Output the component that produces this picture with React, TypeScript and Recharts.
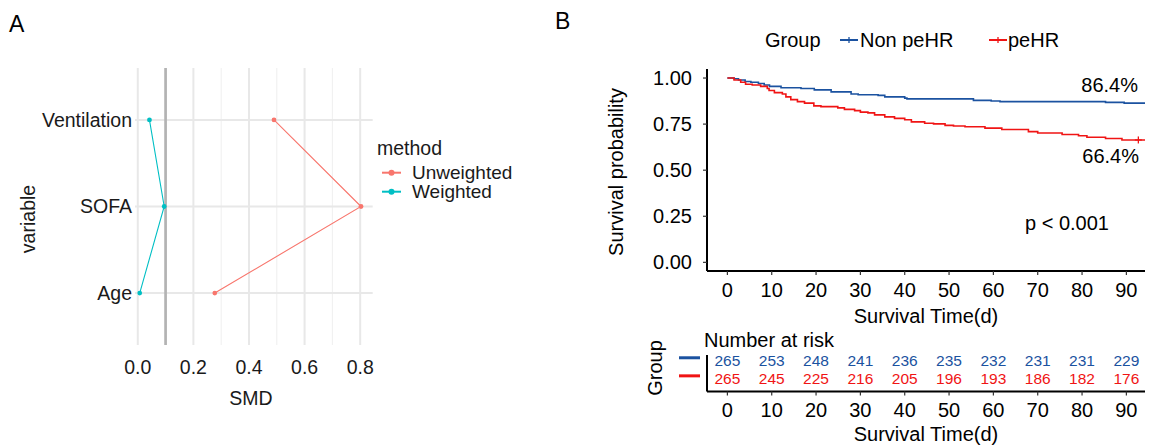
import React from 'react';
import { ComposedChart, Line, Scatter, XAxis, YAxis, ReferenceLine } from 'recharts';

// panel A: standardized mean differences
const variables = ['Age', 'SOFA', 'Ventilation'];
const smdUnweighted = [0.277, 0.803, 0.49];
const smdWeighted = [0.007, 0.095, 0.042];
const smdTicks = [0, 0.2, 0.4, 0.6, 0.8];
const smdMinorTicks = [0.1, 0.3, 0.5, 0.7];
const smdThreshold = 0.1;

// panel B: Kaplan-Meier steps
const timeTicks = [0, 10, 20, 30, 40, 50, 60, 70, 80, 90];
const probTicks = [0, 0.25, 0.5, 0.75, 1];
const nonPehrTimes = [0, 1.5, 2.5, 4, 5.3, 7, 8.3, 9.5, 12.1, 16.6, 19.6, 23.4, 27.9, 29.5, 34, 35.5, 40, 40.5, 55.5, 59.5, 61.5, 85.3, 89.5, 94.2];
const nonPehrSurv = [1, 0.996, 0.989, 0.981, 0.977, 0.97, 0.962, 0.955, 0.947, 0.943, 0.936, 0.925, 0.913, 0.909, 0.906, 0.898, 0.891, 0.887, 0.879, 0.875, 0.872, 0.868, 0.864, 0.864];
const pehrTimes = [0, 1.5, 3, 4.1, 5.6, 7.5, 9, 9.4, 10.6, 12.4, 13.2, 14.3, 15.8, 17.4, 19.5, 21.1, 24.9, 26.4, 28.7, 30, 31.7, 33.2, 35.5, 37.7, 40, 41.5, 44.5, 46.5, 49.1, 51, 53.6, 58.1, 61.9, 67.9, 70, 75.5, 79.2, 81.1, 85.3, 89, 94.2];
const pehrSurv = [1, 0.989, 0.977, 0.966, 0.962, 0.955, 0.943, 0.932, 0.921, 0.913, 0.898, 0.883, 0.872, 0.864, 0.849, 0.845, 0.838, 0.83, 0.823, 0.815, 0.811, 0.8, 0.789, 0.781, 0.774, 0.762, 0.755, 0.751, 0.743, 0.74, 0.736, 0.728, 0.721, 0.709, 0.702, 0.694, 0.687, 0.679, 0.672, 0.664, 0.664];
const pehrCensorTimes = [92.7];
const pehrCensorSurv = [0.664];
const nonPehrAtRisk = [265, 253, 248, 241, 236, 235, 232, 231, 231, 229];
const pehrAtRisk = [265, 245, 225, 216, 205, 196, 193, 186, 182, 176];
const groupNames = ['Non peHR', 'peHR'];
const endLabels = ['86.4%', '66.4%'];
const pLabel = 'p < 0.001';

const FONT = "'Liberation Sans', Arial, Helvetica, sans-serif";
const UNW = '#F8766D';
const WTD = '#00BFC4';
const BLUE = '#1b52a0';
const RED = '#f01414';

const unweightedData = variables.map((v, i) => ({ name: v, smd: smdUnweighted[i], pos: i + 1 }));
const weightedData = variables.map((v, i) => ({ name: v, smd: smdWeighted[i], pos: i + 1 }));
const varPositions = variables.map((_, i) => i + 1);

const nonPehrData = nonPehrTimes.map((t, i) => ({ t, s: nonPehrSurv[i] }));
const pehrData = pehrTimes.map((t, i) => ({ t, s: pehrSurv[i] }));
const censorData = pehrCensorTimes.map((t, i) => ({ t, s: pehrCensorSurv[i] }));
const nonPehrRisk = timeTicks.map((t, i) => ({ t, row: 2, n: nonPehrAtRisk[i] }));
const pehrRisk = timeTicks.map((t, i) => ({ t, row: 1, n: pehrAtRisk[i] }));

const PlusMark = (props: any) => {
  const { cx, cy } = props;
  return (
    <g stroke={RED} strokeWidth={1.3}>
      <line x1={cx - 3.5} x2={cx + 3.5} y1={cy} y2={cy} />
      <line x1={cx} x2={cx} y1={cy - 3.5} y2={cy + 3.5} />
    </g>
  );
};

const riskText = (color: string) => (props: any) => (
  <text x={props.cx} y={props.cy} textAnchor="middle" dominantBaseline="central" fill={color} fontSize={15.5} fontFamily={FONT}>
    {props.payload.n}
  </text>
);

const GroupDash = (props: any) => {
  const { x, y, payload } = props;
  return <line x1={x - 21} x2={x} y1={y - 3} y2={y - 3} stroke={payload.value === 2 ? BLUE : RED} strokeWidth={3} />;
};

const axisText = { fontSize: 20, fill: '#000', fontFamily: FONT };
const aText = { fontSize: 19.5, fill: '#1a1a1a', fontFamily: FONT };

export default function App() {
  return (
    <div style={{ position: 'absolute', left: 0, top: 0, width: 1156, height: 446, background: '#fff', fontFamily: FONT }}>
      <div style={{ position: 'absolute', left: 0, top: 0 }}>
        <ComposedChart width={400} height={420} margin={{ top: 68, right: 27.3, bottom: 45, left: 0 }}>
          <XAxis type="number" dataKey="smd" domain={[-0.01, 0.845]} ticks={smdTicks} allowDataOverflow interval={0}
            tickFormatter={(v: number) => v.toFixed(1)} axisLine={false} tickLine={false} tickSize={0} tickMargin={15}
            height={30} tick={aText} />
          <YAxis type="number" domain={[0.4, 3.6]} ticks={varPositions} allowDataOverflow interval={0}
            tickFormatter={(v: number) => variables[v - 1]} axisLine={false} tickLine={false} tickSize={0} tickMargin={3}
            width={135} tick={aText} />
          {smdMinorTicks.map((v) => (
            <ReferenceLine key={'mn' + v} x={v} stroke="#f0f0f0" strokeWidth={1.1} />
          ))}
          {smdTicks.map((v) => (
            <ReferenceLine key={'mj' + v} x={v} stroke="#e8e8e8" strokeWidth={2} />
          ))}
          {varPositions.map((v) => (
            <ReferenceLine key={'h' + v} y={v} stroke="#e8e8e8" strokeWidth={2} />
          ))}
          <ReferenceLine x={smdThreshold} stroke="#b3b3b3" strokeWidth={2.7} />
          <Line data={unweightedData} dataKey="pos" stroke={UNW} strokeWidth={1.1} isAnimationActive={false}
            dot={{ r: 2.4, fill: UNW, stroke: 'none' }} />
          <Line data={weightedData} dataKey="pos" stroke={WTD} strokeWidth={1.1} isAnimationActive={false}
            dot={{ r: 2.4, fill: WTD, stroke: 'none' }} />
        </ComposedChart>
      </div>

      <div style={{ position: 'absolute', left: 600, top: 0 }}>
        <ComposedChart width={556} height={330} margin={{ top: 69, right: 11, bottom: 29, left: 0 }}>
          <XAxis type="number" dataKey="t" domain={[-4.6, 94.2]} ticks={timeTicks} allowDataOverflow interval={0}
            axisLine={{ stroke: '#000', strokeWidth: 2 }} tickLine={{ stroke: '#333', strokeWidth: 1.2 }}
            tickSize={4} tickMargin={8} height={30} tick={axisText} />
          <YAxis type="number" domain={[-0.047, 1.049]} ticks={probTicks} allowDataOverflow interval={0}
            tickFormatter={(v: number) => v.toFixed(2)} axisLine={{ stroke: '#000', strokeWidth: 2 }}
            tickLine={{ stroke: '#333', strokeWidth: 1.2 }} tickSize={4} tickMargin={11} width={107} tick={axisText} />
          <Line data={nonPehrData} dataKey="s" type="stepAfter" stroke={BLUE} strokeWidth={1.6} dot={false} isAnimationActive={false} />
          <Line data={pehrData} dataKey="s" type="stepAfter" stroke={RED} strokeWidth={1.6} dot={false} isAnimationActive={false} />
          <Scatter data={censorData} dataKey="s" shape={PlusMark} isAnimationActive={false} />
        </ComposedChart>
      </div>

      <div style={{ position: 'absolute', left: 600, top: 330 }}>
        <ComposedChart width={556} height={116} margin={{ top: 25, right: 11, bottom: 24.5, left: 0 }}>
          <XAxis type="number" dataKey="t" domain={[-4.6, 94.2]} ticks={timeTicks} allowDataOverflow interval={0}
            axisLine={{ stroke: '#000', strokeWidth: 2 }} tickLine={{ stroke: '#333', strokeWidth: 1.2 }}
            tickSize={4} tickMargin={7} height={30} tick={axisText} />
          <YAxis type="number" domain={[0.3, 2.32]} ticks={[1, 2]} allowDataOverflow interval={0} width={107}
            axisLine={{ stroke: '#000', strokeWidth: 2 }} tickLine={false} tickSize={0} tickMargin={7} tick={GroupDash} />
          <Scatter data={nonPehrRisk} dataKey="row" shape={riskText(BLUE)} isAnimationActive={false} />
          <Scatter data={pehrRisk} dataKey="row" shape={riskText(RED)} isAnimationActive={false} />
        </ComposedChart>
      </div>

      <svg width={1156} height={446} style={{ position: 'absolute', left: 0, top: 0, pointerEvents: 'none' }} fontFamily={FONT}>
        {/* panel A */}
        <text x={9} y={23.5} fontSize={23} dominantBaseline="central">A</text>
        <text transform="translate(28,219) rotate(-90)" fontSize={19.5} textAnchor="middle" dominantBaseline="central" fill="#1a1a1a">variable</text>
        <text x={251} y={398} fontSize={19.5} textAnchor="middle" dominantBaseline="central" fill="#1a1a1a">SMD</text>
        <text x={377} y={148} fontSize={19.5} dominantBaseline="central" fill="#1a1a1a">method</text>
        <line x1={382} x2={401} y1={172.7} y2={172.7} stroke={UNW} strokeWidth={2} />
        <circle cx={391.5} cy={172.7} r={3} fill={UNW} />
        <text x={412} y={172.7} fontSize={19} dominantBaseline="central" fill="#1a1a1a">Unweighted</text>
        <line x1={382} x2={401} y1={191.7} y2={191.7} stroke={WTD} strokeWidth={2} />
        <circle cx={391.5} cy={191.7} r={3} fill={WTD} />
        <text x={412} y={191.7} fontSize={19} dominantBaseline="central" fill="#1a1a1a">Weighted</text>

        {/* panel B */}
        <text x={555} y={21} fontSize={23} dominantBaseline="central">B</text>
        <text x={765} y={40} fontSize={20} dominantBaseline="central">Group</text>
        <line x1={840} x2={858} y1={40} y2={40} stroke={BLUE} strokeWidth={2} />
        <line x1={849} x2={849} y1={37} y2={43} stroke={BLUE} strokeWidth={1.3} />
        <text x={860} y={40} fontSize={20} dominantBaseline="central">{groupNames[0]}</text>
        <line x1={989} x2={1007} y1={40} y2={40} stroke={RED} strokeWidth={2} />
        <line x1={998} x2={998} y1={37} y2={43} stroke={RED} strokeWidth={1.3} />
        <text x={1008} y={40} fontSize={20} dominantBaseline="central">{groupNames[1]}</text>
        <text transform="translate(616,172) rotate(-90)" fontSize={20} textAnchor="middle" dominantBaseline="central">Survival probability</text>
        <text x={926} y={316} fontSize={20} textAnchor="middle" dominantBaseline="central">Survival Time(d)</text>
        <text x={1138} y={85} fontSize={20} textAnchor="end" dominantBaseline="central">{endLabels[0]}</text>
        <text x={1139} y={156} fontSize={20} textAnchor="end" dominantBaseline="central">{endLabels[1]}</text>
        <text x={1025} y={223} fontSize={20} dominantBaseline="central">{pLabel}</text>
        <text x={704} y={339.5} fontSize={20} dominantBaseline="central">Number at risk</text>
        <text transform="translate(655,368) rotate(-90)" fontSize={20} textAnchor="middle" dominantBaseline="central">Group</text>
        <text x={926} y={434} fontSize={20} textAnchor="middle" dominantBaseline="central">Survival Time(d)</text>
      </svg>
    </div>
  );
}
